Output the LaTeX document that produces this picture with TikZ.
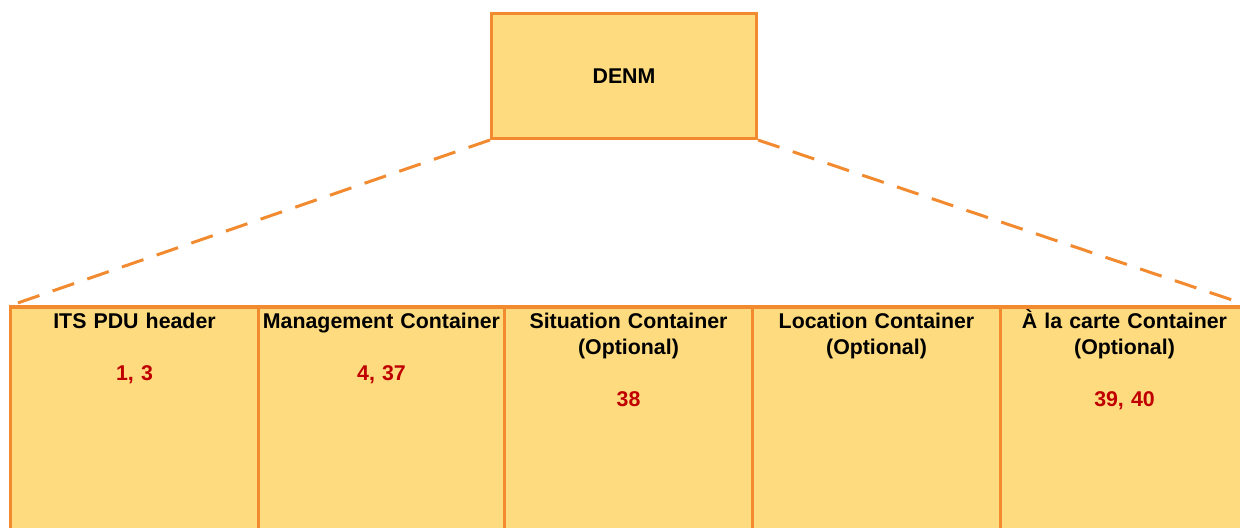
\documentclass[tikz,border=0pt]{standalone}
\usepackage{fontspec}
\setmainfont{Liberation Sans}
\definecolor{boxfill}{HTML}{FDDB7E}
\definecolor{boxline}{HTML}{F28A30}
\definecolor{numred}{HTML}{C00000}
\begin{document}
\begin{tikzpicture}[x=0.75pt,y=-0.75pt,
  box/.style={draw=boxline, fill=boxfill, line width=2.25pt, inner sep=0pt, anchor=north west},
  cont/.style={box, minimum width=186pt, minimum height=195pt},
  lbl/.style={font=\fontsize{16}{19.5}\selectfont\bfseries, text width=184pt, align=center, inner sep=0pt, anchor=base},
  num/.style={text=numred},
  link/.style={draw=boxline, line width=2.25pt, dash pattern=on 17pt off 10.5pt}]
\useasboundingbox (0,0) rectangle (1240,528);
\node[box, minimum width=198.75pt, minimum height=93.75pt, font=\fontsize{16}{19.5}\selectfont\bfseries] (denm) at (490,12) {DENM};
\node[cont] (b1) at (9,306) {};
\node[cont, minimum width=184.5pt] (b2) at (257,306) {};
\node[cont] (b3) at (503,306) {};
\node[cont] (b4) at (751,306) {};
\node[cont] (b5) at (999,306) {};
\path[link] (denm.south west) -- (b1.north west);
\path[link] (denm.south east) -- (b5.north east);
\draw[boxline, line width=2.25pt] (b1.north west) -- (b5.north east);
\node[lbl] (t1) at ([yshift=-16.5pt]b1.north) {ITS PDU header\\[19.5pt]\textcolor{numred}{1, 3}};
\node[lbl] (t2) at ([yshift=-16.5pt]b2.north) {Management Container\\[19.5pt]\textcolor{numred}{4, 37}};
\node[lbl] (t3) at ([yshift=-16.5pt]b3.north) {Situation Container\\(Optional)\\[19.5pt]\textcolor{numred}{38}};
\node[lbl] (t4) at ([yshift=-16.5pt]b4.north) {Location Container\\(Optional)};
\node[lbl] (t5) at ([yshift=-16.5pt]b5.north) {À la carte Container\\(Optional)\\[19.5pt]\textcolor{numred}{39, 40}};
\end{tikzpicture}
\end{document}
